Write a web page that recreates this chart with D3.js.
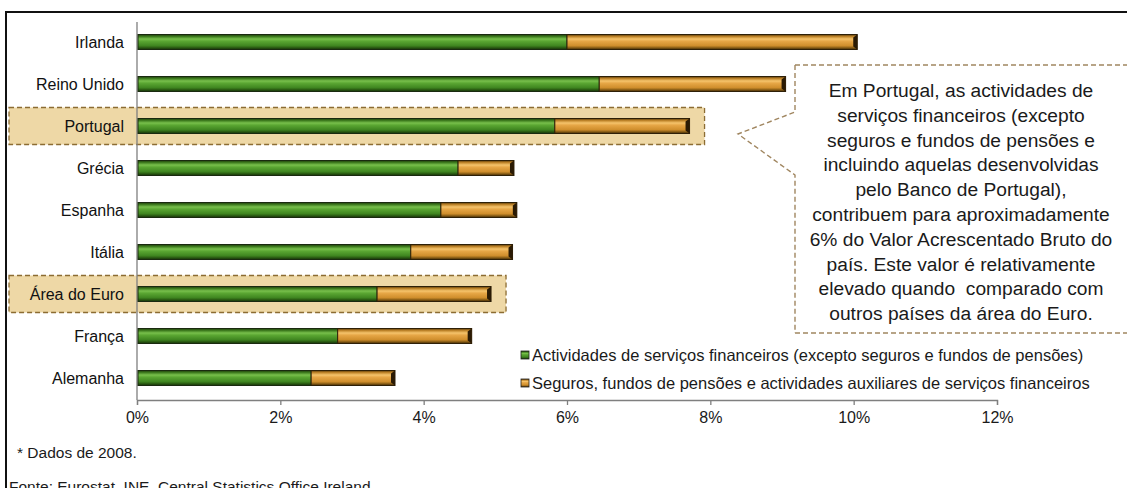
<!DOCTYPE html>
<html>
<head>
<meta charset="utf-8">
<script src="https://cdn.jsdelivr.net/npm/d3@7"></script>
<style>
  body { margin: 0; background: #fff; }
  svg { display: block; font-family: "Liberation Sans", Arial, sans-serif; }
</style>
</head>
<body>
<svg id="chart" width="1127" height="488"></svg>
<script>
// Data (% of gross value added)
var categories = ["Irlanda", "Reino Unido", "Portugal", "Grécia", "Espanha", "Itália", "Área do Euro", "França", "Alemanha"];
var financeiros = [6.0, 6.45, 5.83, 4.48, 4.24, 3.82, 3.35, 2.8, 2.43];
var seguros = [4.05, 2.6, 1.88, 0.78, 1.06, 1.42, 1.59, 1.87, 1.17];
var xTicks = [0, 2, 4, 6, 8, 10, 12];
var highlighted = ["Portugal", "Área do Euro"];
var seriesNames = [
    "Actividades de serviços financeiros (excepto seguros e fundos de pensões)",
    "Seguros, fundos de pensões e actividades auxiliares de serviços financeiros"
];
var calloutLines = [
    "Em Portugal, as actividades de",
    "serviços financeiros (excepto",
    "seguros e fundos de pensões e",
    "incluindo aquelas desenvolvidas",
    "pelo Banco de Portugal),",
    "contribuem para aproximadamente",
    "6% do Valor Acrescentado Bruto do",
    "país. Este valor é relativamente",
    "elevado quando  comparado com",
    "outros países da área do Euro."
];

var rows = categories.map(function(c, i) {
    return { name: c, a: financeiros[i], b: seguros[i] };
});

var svg = d3.select('#chart');

var x = d3.scaleLinear().domain([0, 12]).range([137, 997]);
var y = d3.scaleBand().domain(categories).range([21, 399]);
var barH = 15;

// gradients for the bevelled bars
var defs = svg.append('defs');
function bevel(id, stops) {
    var g = defs.append('linearGradient')
        .attr('id', id)
        .attr('x1', 0).attr('y1', 0).attr('x2', 0).attr('y2', 1);
    stops.forEach(function(s) {
        g.append('stop').attr('offset', s[0]).attr('stop-color', s[1]);
    });
}
bevel('gGreen', [[0, '#1e3d0b'], [0.14, '#3f7d1f'], [0.3, '#78c04c'], [0.45, '#5aa632'], [0.75, '#3f8520'], [0.88, '#2a5a12'], [1, '#16300a']]);
bevel('gOrange', [[0, '#5a3a08'], [0.14, '#c0852a'], [0.3, '#f5c46c'], [0.45, '#e6a646'], [0.75, '#cf8e2c'], [0.88, '#8a5e16'], [1, '#3f2906']]);

// outer frame
svg.append('rect')
    .attr('x', 6).attr('y', 12)
    .attr('width', 1140).attr('height', 500)
    .attr('fill', 'none')
    .attr('stroke', '#111')
    .attr('stroke-width', 2);

// highlight boxes behind Portugal and Euro area
svg.selectAll('rect.hl')
    .data(rows.filter(function(d) { return highlighted.indexOf(d.name) >= 0; }))
    .join('rect')
    .classed('hl', true)
    .attr('x', 9)
    .attr('y', function(d) { return y(d.name) + y.bandwidth() / 2 - 18.5; })
    .attr('width', function(d) { return x(d.a + d.b) + 15 - 9; })
    .attr('height', 37)
    .attr('fill', '#eed8a6')
    .attr('stroke', '#8c6c32')
    .attr('stroke-width', 1.3)
    .attr('stroke-dasharray', '5,3');

// axes
svg.append('line')
    .attr('x1', x(0)).attr('x2', x(0))
    .attr('y1', 22).attr('y2', 400)
    .attr('stroke', '#7f7f7f').attr('stroke-width', 1.3);

var xAxis = svg.append('g')
    .attr('transform', 'translate(0,400)')
    .call(d3.axisBottom(x).tickValues(xTicks).tickSize(5).tickPadding(7)
        .tickFormat(function(d) { return d + '%'; }));
xAxis.select('.domain').attr('stroke', '#7f7f7f').attr('stroke-width', 1.3);
xAxis.selectAll('.tick line').attr('stroke', '#7f7f7f').attr('stroke-width', 1.3);
xAxis.selectAll('.tick text')
    .attr('font-size', 16)
    .attr('font-family', '"Liberation Sans", Arial, sans-serif')
    .attr('fill', '#1a1a1a');

// category labels
svg.selectAll('text.cat')
    .data(categories)
    .join('text')
    .classed('cat', true)
    .attr('x', 124)
    .attr('y', function(d) { return y(d) + y.bandwidth() / 2; })
    .attr('dy', '0.35em')
    .attr('text-anchor', 'end')
    .attr('font-size', 16)
    .attr('fill', '#111')
    .text(function(d) { return d; });

// bars
function barTop(d) { return y(d.name) + y.bandwidth() / 2 - barH / 2; }

svg.selectAll('rect.fin')
    .data(rows)
    .join('rect')
    .classed('fin', true)
    .attr('x', x(0) + 1)
    .attr('y', barTop)
    .attr('width', function(d) { return x(d.a) - x(0) - 1; })
    .attr('height', barH)
    .attr('fill', 'url(#gGreen)')
    .attr('stroke', '#1a2a10')
    .attr('stroke-width', 1);

svg.selectAll('rect.seg')
    .data(rows)
    .join('rect')
    .classed('seg', true)
    .attr('x', function(d) { return x(d.a); })
    .attr('y', barTop)
    .attr('width', function(d) { return x(d.a + d.b) - x(d.a); })
    .attr('height', barH)
    .attr('fill', 'url(#gOrange)')
    .attr('stroke', '#2e2008')
    .attr('stroke-width', 1);

// dark bevelled end caps
svg.selectAll('path.cap')
    .data(rows)
    .join('path')
    .classed('cap', true)
    .attr('d', function(d) {
        var xe = x(d.a + d.b), t = barTop(d);
        return 'M' + xe + ',' + t + ' l-4,3 l0,' + (barH - 6) + ' l4,3 z';
    })
    .attr('fill', '#2a1a04');

// legend
var legend = svg.append('g');
var legendY = [355, 383];
var legendFill = ['url(#gGreen)', 'url(#gOrange)'];
legend.selectAll('rect')
    .data(seriesNames)
    .join('rect')
    .attr('x', 521)
    .attr('y', function(d, i) { return legendY[i] - 4; })
    .attr('width', 8).attr('height', 8)
    .attr('fill', function(d, i) { return legendFill[i]; })
    .attr('stroke', '#222').attr('stroke-width', 0.8);
legend.selectAll('text')
    .data(seriesNames)
    .join('text')
    .attr('x', 532)
    .attr('y', function(d, i) { return legendY[i]; })
    .attr('dy', '0.35em')
    .attr('font-size', 16.5)
    .attr('fill', '#1a1a1a')
    .text(function(d) { return d; });

// callout bubble
var cl = 795, ct = 65, cb = 333, cr = 1140;
svg.append('path')
    .attr('d', 'M' + cl + ',' + ct + ' L' + cr + ',' + ct + ' M' + cl + ',' + cb + ' L' + cr + ',' + cb +
        ' M' + cl + ',' + ct + ' L' + cl + ',112 L738,134 L' + cl + ',175 L' + cl + ',' + cb)
    .attr('fill', 'none')
    .attr('stroke', '#a08660')
    .attr('stroke-width', 1.4)
    .attr('stroke-dasharray', '5,3');

svg.selectAll('text.callout')
    .data(calloutLines)
    .join('text')
    .classed('callout', true)
    .attr('x', 961)
    .attr('y', function(d, i) { return 97 + i * 24.8; })
    .attr('text-anchor', 'middle')
    .attr('font-size', 19.2)
    .attr('fill', '#1a1a1a')
    .style('white-space', 'pre')
    .text(function(d) { return d; });

// notes
svg.append('text')
    .attr('x', 17).attr('y', 458)
    .attr('font-size', 15.5)
    .attr('fill', '#1a1a1a')
    .text('* Dados de 2008.');
svg.append('text')
    .attr('x', 9).attr('y', 492)
    .attr('font-size', 15.5)
    .attr('fill', '#1a1a1a')
    .text('Fonte: Eurostat, INE, Central Statistics Office Ireland');
</script>
</body>
</html>
